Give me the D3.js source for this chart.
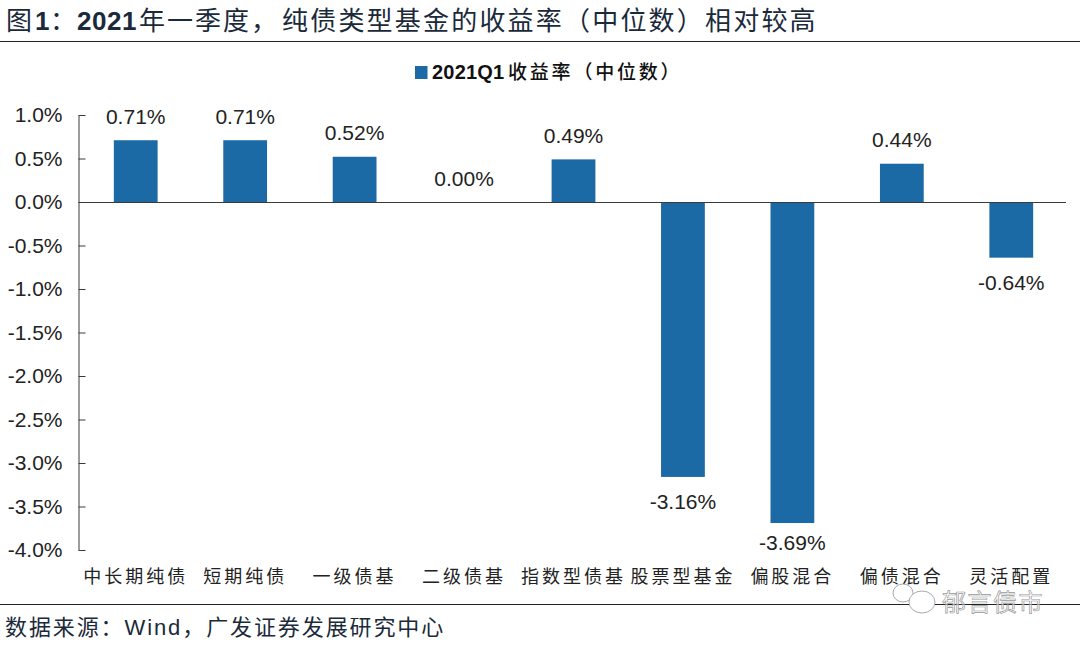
<!DOCTYPE html>
<html>
<head>
<meta charset="utf-8">
<script src="https://cdn.jsdelivr.net/npm/d3@7"></script>
<style>
	html, body { margin: 0; padding: 0; background: #fff; }
	svg { display: block; }
	text { font-family: "Liberation Sans", "Noto Sans CJK SC", sans-serif; }
	.cjk { font-family: "Noto Sans CJK SC", sans-serif; }
	.domain, .tick line { stroke: #3a3a3a; }
</style>
</head>
<body>
<svg id="chart" width="1080" height="645"></svg>
<script>
const categories = ["中长期纯债", "短期纯债", "一级债基", "二级债基", "指数型债基", "股票型基金", "偏股混合", "偏债混合", "灵活配置"];
const values = [0.71, 0.71, 0.52, 0.00, 0.49, -3.16, -3.69, 0.44, -0.64];
const y_ticks = [1.0, 0.5, 0.0, -0.5, -1.0, -1.5, -2.0, -2.5, -3.0, -3.5, -4.0];
const series_name = "收益率\uFF08中位数\uFF09";
const series_year = "2021Q1";

const svg = d3.select("#chart");
const blue = "#1b6aa5";

const xscale = d3.scaleBand().domain(categories).range([81, 1066]).paddingInner(0.6).paddingOuter(0.3);
const yscale = d3.scaleLinear().domain([-4, 1]).range([550, 115]);

// title
const title = svg.append("text").attr("y", 30).attr("font-size", 26).attr("fill", "#1a2a3a").attr("letter-spacing", 2);
title.append("tspan").attr("class", "cjk").attr("x", 6).text("图");
title.append("tspan").attr("font-weight", "bold").attr("x", 35).text("1");
title.append("tspan").attr("class", "cjk").attr("x", 50).text("\uFF1A");
title.append("tspan").attr("font-weight", "bold").attr("x", 77).attr("letter-spacing", 0.5).text("2021");
title.append("tspan").attr("class", "cjk").attr("x", 139).text("年一季度\uFF0C");
title.append("tspan").attr("class", "cjk").attr("x", 282).attr("letter-spacing", 2.2).text("纯债类型基金的收益率\uFF08中位数\uFF09相对较高");

svg.append("line").attr("x1", 0).attr("x2", 1080).attr("y1", 41.5).attr("y2", 41.5).attr("stroke", "#222");
svg.append("line").attr("x1", 0).attr("x2", 1080).attr("y1", 604.5).attr("y2", 604.5).attr("stroke", "#222");

// legend
svg.append("rect").attr("x", 415).attr("y", 66).attr("width", 12.5).attr("height", 13).attr("fill", blue);
const legend = svg.append("text").attr("y", 79).attr("fill", "#111");
legend.append("tspan").attr("x", 432).attr("font-size", 20).attr("font-weight", "bold").attr("letter-spacing", 0.2).text(series_year);
legend.append("tspan").attr("class", "cjk").attr("x", 508).attr("font-size", 19).attr("font-weight", 500).attr("letter-spacing", 2.8).text(series_name);

// bars
svg.selectAll(".bar")
	.data(values)
	.join("rect")
	.attr("class", "bar")
	.attr("x", (d, i) => xscale(categories[i]))
	.attr("width", xscale.bandwidth())
	.attr("y", d => yscale(Math.max(d, 0)))
	.attr("height", d => Math.abs(yscale(d) - yscale(0)))
	.attr("fill", blue);

// y axis
const y_axis = svg.append("g")
	.attr("transform", "translate(78.5,0)")
	.call(d3.axisLeft(yscale).tickValues(y_ticks).tickSize(-7).tickSizeOuter(0).tickPadding(16).tickFormat(d => d.toFixed(1) + "%"));
y_axis.selectAll("text").attr("font-size", 21).attr("fill", "#222").style("font-family", "'Liberation Sans'");

// zero line
svg.append("line").attr("x1", 78.5).attr("x2", 1066).attr("y1", yscale(0) + 0.5).attr("y2", yscale(0) + 0.5).attr("stroke", "#3a3a3a");

// data labels, the lowest one sits closer to its bar
svg.selectAll(".val")
	.data(values)
	.join("text")
	.attr("class", "val")
	.attr("x", (d, i) => xscale(categories[i]) + xscale.bandwidth() / 2)
	.attr("y", d => d >= 0 ? yscale(d) - 16.5 : yscale(d) + (d < -3.5 ? 27 : 32))
	.attr("text-anchor", "middle")
	.attr("font-size", 21)
	.attr("fill", "#222")
	.text(d => d.toFixed(2) + "%");

// category labels
svg.selectAll(".cat")
	.data(categories)
	.join("text")
	.attr("class", "cat cjk")
	.attr("x", d => xscale(d) + xscale.bandwidth() / 2)
	.attr("y", 583)
	.attr("text-anchor", "middle")
	.attr("font-size", 18)
	.attr("letter-spacing", 3)
	.attr("fill", "#222")
	.text(d => d);

// source
const source = svg.append("text").attr("x", 5).attr("y", 635).attr("font-size", 22).attr("fill", "#1a2a3a").attr("letter-spacing", 1.9);
source.append("tspan").attr("class", "cjk").text("数据来源\uFF1A");
source.append("tspan").text("Wind");
source.append("tspan").attr("class", "cjk").text("\uFF0C广发证券发展研究中心");

// watermark
const wm = svg.append("g").attr("fill", "#fff").attr("stroke", "#aaa").attr("stroke-width", 1);
wm.append("ellipse").attr("cx", 903).attr("cy", 593).attr("rx", 10).attr("ry", 9);
wm.append("ellipse").attr("cx", 922).attr("cy", 602).attr("rx", 13).attr("ry", 11);
svg.append("text").attr("class", "cjk").attr("x", 942).attr("y", 611).attr("font-size", 24).attr("letter-spacing", 1.5)
	.attr("fill", "#fff").attr("fill-opacity", 0.5).attr("stroke", "#999").attr("stroke-width", 0.7).text("郁言债市");
</script>
</body>
</html>
